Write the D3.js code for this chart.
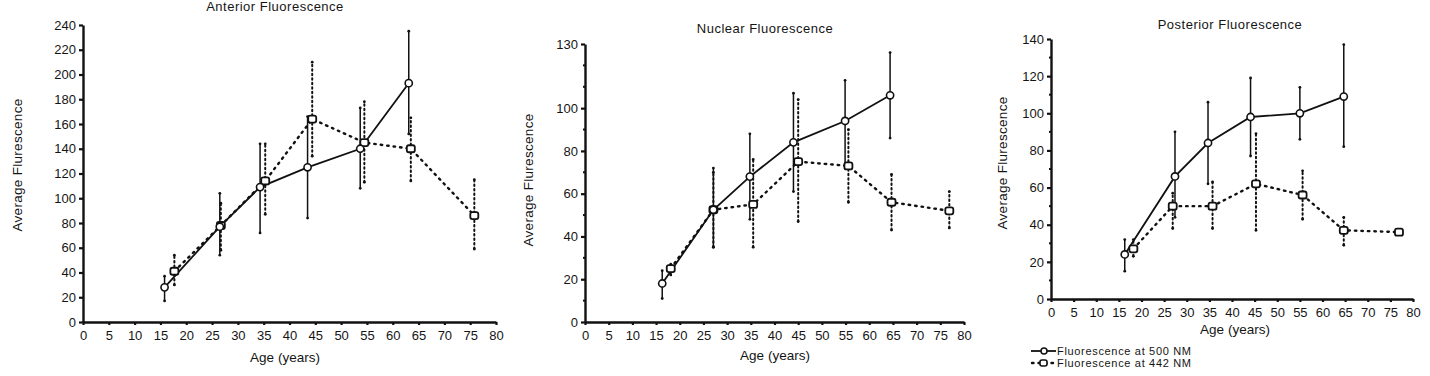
<!DOCTYPE html>
<html>
<head>
<meta charset="utf-8">
<script src="https://cdn.jsdelivr.net/npm/d3@7"></script>
<style>
  body { margin: 0; background: #fff; }
  svg text { font-family: "Liberation Sans", Arial, sans-serif; fill: #151515; }
</style>
</head>
<body>
<svg id="chart" width="1430" height="376"></svg>
<script>
// ---- DATA: [age, mean, low, high] ----
const ant500 = [[15.8,28,17,37],[26.5,77,54,104],[34.3,109,72,144],[43.5,125,84,166],[53.7,140,108,173],[63.1,193,152,235]];
const ant442 = [[17.7,41,30,54],[26.7,78,58,96],[35.3,114,87,144],[44.4,164,134,210],[54.5,145,113,178],[63.5,140,114,165],[75.8,86,59,115]];

const nuc500 = [[16.3,18,11,24],[27.1,52.5,35,72],[34.8,68,48,88],[44,84,61,107],[54.9,94,73,113],[64.4,106,86,126]];
const nuc442 = [[18.1,25,22,27],[27.1,52.5,35,70],[35.5,55,35,76],[45,75,47,104],[55.6,73,56,90],[64.7,56,43,69],[76.9,52,44,61]];

const pos500 = [[16.3,24,15,32],[27.4,66,44,90],[34.7,84,62,106],[44.1,98,77,119],[55,100,86,114],[64.7,109,82,137]];
const pos442 = [[18.2,27,23,32],[26.9,50,38,57],[35.7,50,38,63],[45.3,62,37,89],[55.6,56,43,69],[64.7,37,29,44],[76.9,36,36,36]];

const xTicks = [0,5,10,15,20,25,30,35,40,45,50,55,60,65,70,75,80];
const antTicks = [0,20,40,60,80,100,120,140,160,180,200,220,240];
const nucTicks = [0,20,40,60,80,100,130];
const nucMinor = [10,30,50,70,90,110,120];
const posTicks = [0,20,40,60,80,100,120,140];
const posMinor = [10,30,50,70,90,110,130];

const legendLabels = ['Fluorescence at 500 NM', 'Fluorescence at 442 NM'];

const svg = d3.select('#chart');

function drawPanel(cfg) {
  const x = d3.scaleLinear().domain([0, 80]).range(cfg.xr);
  const y = d3.scaleLinear().domain([0, cfg.ymax]).range(cfg.yr);
  const g = svg.append('g');

  // ---- AXES ----
  const xa = g.append('g')
    .attr('transform', `translate(0,${cfg.yr[0]})`)
    .call(d3.axisBottom(x).tickValues(xTicks).tickSize(3).tickSizeOuter(0));
  xa.select('.domain').attr('stroke', '#111').attr('stroke-width', 2.4);
  xa.selectAll('.tick line').attr('stroke', '#111').attr('stroke-width', 2.2);
  xa.selectAll('text').attr('dy', '0.9em').style('font-size', '13px');

  const ya = g.append('g')
    .attr('transform', `translate(${cfg.xr[0]},0)`)
    .call(d3.axisLeft(y).tickValues(cfg.ticks).tickSize(4).tickSizeOuter(0));
  ya.select('.domain').attr('stroke', '#111').attr('stroke-width', 2.4);
  ya.selectAll('.tick line').attr('stroke', '#111').attr('stroke-width', 2.2);
  ya.selectAll('text').attr('x', -7).style('font-size', '13px');

  if (cfg.minor) {
    g.selectAll('.minor').data(cfg.minor).join('line')
      .attr('x1', cfg.xr[0] - 2).attr('x2', cfg.xr[0] + 1)
      .attr('y1', d => y(d)).attr('y2', d => y(d))
      .attr('stroke', '#111').attr('stroke-width', 2);
  }

  // ---- TITLES ----
  g.append('text').attr('x', cfg.title[1]).attr('y', cfg.title[2])
    .attr('text-anchor', 'middle').style('font-size', '13px')
    .style('letter-spacing', '0.5px').text(cfg.title[0]);
  g.append('text').attr('x', cfg.xlab[0]).attr('y', cfg.xlab[1])
    .attr('text-anchor', 'middle').style('font-size', '13.5px').text('Age (years)');
  g.append('text')
    .attr('transform', `translate(${cfg.ylab[0]},${cfg.ylab[1]}) rotate(-90)`)
    .attr('text-anchor', 'middle').style('font-size', '13.5px')
    .style('letter-spacing', '0.3px').text('Average Flurescence');

  const line = d3.line().x(d => x(d[0])).y(d => y(d[1]));

  // ---- ERROR BARS ----
  function errBars(data, dotted) {
    g.append('g').selectAll('line').data(data.filter(d => d[3] > d[2])).join('line')
      .attr('x1', d => x(d[0])).attr('x2', d => x(d[0]))
      .attr('y1', d => y(d[2])).attr('y2', d => y(d[3]))
      .attr('stroke', '#111')
      .attr('stroke-width', dotted ? 2 : 1.5)
      .attr('stroke-dasharray', dotted ? '1.5,3' : null)
      .attr('stroke-linecap', dotted ? 'round' : 'butt');
    g.append('g').selectAll('circle').data(data.filter(d => d[3] > d[2]).flatMap(d => [[d[0], d[2]], [d[0], d[3]]])).join('circle')
      .attr('cx', d => x(d[0])).attr('cy', d => y(d[1])).attr('r', 1.4).attr('fill', '#111');
  }
  errBars(cfg.s442, true);
  errBars(cfg.s500, false);

  // ---- SERIES LINES ----
  g.append('path').datum(cfg.s442).attr('d', line)
    .attr('fill', 'none').attr('stroke', '#111').attr('stroke-width', 2.4)
    .attr('stroke-dasharray', '1.5,5').attr('stroke-linecap', 'round');
  g.append('path').datum(cfg.s500).attr('d', line)
    .attr('fill', 'none').attr('stroke', '#111').attr('stroke-width', 1.8);

  // ---- MARKERS ----
  g.append('g').selectAll('rect').data(cfg.s442).join('rect')
    .attr('x', d => x(d[0]) - 4).attr('y', d => y(d[1]) - 3.5)
    .attr('width', 8).attr('height', 7).attr('rx', 2)
    .attr('fill', '#fff').attr('stroke', '#111').attr('stroke-width', 1.8);
  g.append('g').selectAll('circle').data(cfg.s500).join('circle')
    .attr('cx', d => x(d[0])).attr('cy', d => y(d[1])).attr('r', 3.6)
    .attr('fill', '#fff').attr('stroke', '#111').attr('stroke-width', 1.6);
}

drawPanel({ xr: [83, 496], yr: [322, 25], ymax: 240, ticks: antTicks,
  s500: ant500, s442: ant442,
  title: ['Anterior Fluorescence', 275, 11], xlab: [285, 362], ylab: [22, 165] });
drawPanel({ xr: [585, 964], yr: [322, 44], ymax: 130, ticks: nucTicks, minor: nucMinor,
  s500: nuc500, s442: nuc442,
  title: ['Nuclear Fluorescence', 765, 33], xlab: [775, 360], ylab: [533, 180] });
drawPanel({ xr: [1051, 1413], yr: [299, 39], ymax: 140, ticks: posTicks, minor: posMinor,
  s500: pos500, s442: pos442,
  title: ['Posterior Fluorescence', 1230, 29], xlab: [1235, 334], ylab: [1007, 163] });

// ---- LEGEND ----
const lg = svg.append('g');
lg.append('line').attr('x1', 1031).attr('x2', 1056).attr('y1', 351).attr('y2', 351)
  .attr('stroke', '#111').attr('stroke-width', 1.8);
lg.append('circle').attr('cx', 1044).attr('cy', 351).attr('r', 3)
  .attr('fill', '#fff').attr('stroke', '#111').attr('stroke-width', 1.5);
lg.append('line').attr('x1', 1032).attr('x2', 1056).attr('y1', 363).attr('y2', 363)
  .attr('stroke', '#111').attr('stroke-width', 2.4).attr('stroke-dasharray', '1.5,5').attr('stroke-linecap', 'round');
lg.append('rect').attr('x', 1040).attr('y', 360).attr('width', 7).attr('height', 6).attr('rx', 2)
  .attr('fill', '#fff').attr('stroke', '#111').attr('stroke-width', 1.6);
lg.selectAll('text').data(legendLabels).join('text')
  .attr('x', 1057).attr('y', (d, i) => 355 + i * 12)
  .attr('textLength', 134).attr('lengthAdjust', 'spacing')
  .style('font-size', '11px').text(d => d);
</script>
</body>
</html>
